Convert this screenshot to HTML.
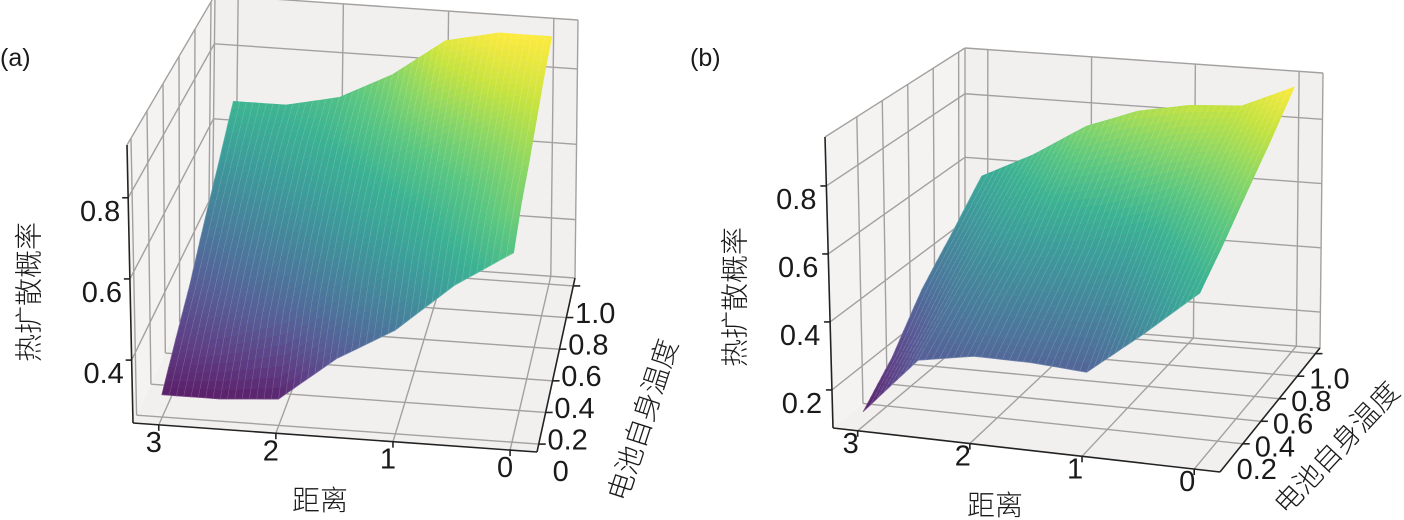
<!DOCTYPE html>
<html><head><meta charset="utf-8"><style>
html,body{margin:0;padding:0;background:#fff;}
svg{display:block;}
.tk{font-family:"Liberation Sans",sans-serif;font-size:29px;fill:#1a1a1a;}
.cj{font-family:"Liberation Sans","Noto Sans CJK SC",sans-serif;font-size:28px;font-weight:300;fill:#1a1a1a;}
</style></head><body>
<svg id="chart" width="1404" height="520" viewBox="0 0 1404 520" xmlns="http://www.w3.org/2000/svg">
<text x="0" y="66" class="tk" style="font-size:25px">(a)</text>
<text x="690" y="66" class="tk" style="font-size:25px">(b)</text>
</svg>
<script>
// ---- data ----
const distanceCats = [3, 2.5, 2, 1.5, 1, 0.5, 0];
const tempCatsA = [0, 0.2, 0.4, 0.6, 0.8, 1.0];
const probA_t00 = [0.30, 0.30, 0.31, 0.42, 0.50, 0.62, 0.71];
const probA_t02 = [0.36, 0.40, 0.45, 0.52, 0.60, 0.68, 0.76];
const probA_t04 = [0.42, 0.48, 0.53, 0.60, 0.66, 0.72, 0.79];
const probA_t06 = [0.50, 0.55, 0.60, 0.66, 0.72, 0.78, 0.83];
const probA_t08 = [0.58, 0.62, 0.66, 0.72, 0.80, 0.85, 0.87];
const probA_t10 = [0.67, 0.67, 0.70, 0.77, 0.87, 0.90, 0.90];
const tempCatsB = [0, 0.25, 0.5, 0.75, 1.0];
const probB_t00 = [0.13, 0.30, 0.33, 0.33, 0.32, 0.45, 0.59];
const probB_t02 = [0.22, 0.38, 0.42, 0.42, 0.44, 0.55, 0.66];
const probB_t05 = [0.35, 0.46, 0.50, 0.52, 0.56, 0.66, 0.74];
const probB_t08 = [0.45, 0.55, 0.62, 0.66, 0.72, 0.76, 0.82];
const probB_t10 = [0.56, 0.64, 0.74, 0.80, 0.83, 0.84, 0.91];
const xTickVals = [3, 2, 1, 0];
const xTickLabels = ['3', '2', '1', '0'];
const yTickValsA = [0, 0.2, 0.4, 0.6, 0.8, 1.0];
const yTickLabelsA = ['0', '0.2', '0.4', '0.6', '0.8', '1.0'];
const yTickValsB = [0.2, 0.4, 0.6, 0.8, 1.0];
const yTickLabelsB = ['0.2', '0.4', '0.6', '0.8', '1.0'];
const zTickValsA = [0.4, 0.6, 0.8];
const zTickLabelsA = ['0.4', '0.6', '0.8'];
const zTickValsB = [0.2, 0.4, 0.6, 0.8];
const zTickLabelsB = ['0.2', '0.4', '0.6', '0.8'];

const NS = 'http://www.w3.org/2000/svg';
const svg = document.getElementById('chart');
function mk(tag, attrs, parent) {
  const e = document.createElementNS(NS, tag);
  for (const k in attrs) e.setAttribute(k, attrs[k]);
  (parent || svg).appendChild(e);
  return e;
}
const lerp = (a, b, t) => [a[0] + (b[0] - a[0]) * t, a[1] + (b[1] - a[1]) * t];
const bil = (a, b, c, d, u, v) => lerp(lerp(a, b, u), lerp(c, d, u), v);
const VIR = ['#440154','#482475','#414487','#355f8d','#2a788e','#21918c','#22a884','#44bf70','#7ad151','#bddf26','#fde725'];
function hex(h){return [parseInt(h.substr(1,2),16),parseInt(h.substr(3,2),16),parseInt(h.substr(5,2),16)];}
function viridis(t){
  t=Math.max(0,Math.min(1,t)); const f=t*10; const i=Math.min(9,Math.floor(f)); const r=f-i;
  const a=hex(VIR[i]), b=hex(VIR[i+1]);
  return 'rgb('+a.map((x,k)=>Math.round((x+(b[k]-x)*r)*0.88+255*0.12)).join(',')+')';
}

function drawPanel(cfg) {
  const c = cfg.c;
  const g = mk('g', {});
  
  
  const P = (u, v, w) => lerp(bil(c.FLB, c.FRB, c.BLB, c.BRB, u, v), bil(c.FLT, c.FRT, c.BLT, c.BRT, u, v), w);
  const U = x => (x - cfg.xr[0]) / (cfg.xr[1] - cfg.xr[0]);
  const V = y => (y - cfg.yr[0]) / (cfg.yr[1] - cfg.yr[0]);
  const W = z => (z - cfg.zr[0]) / (cfg.zr[1] - cfg.zr[0]);
  const pts = a => a.map(p => p[0].toFixed(1) + ',' + p[1].toFixed(1)).join(' ');
  const paneFill = '#f2f0ef';
  let e;
  e = mk('polygon', {points: pts([c.FLB, c.FRB, c.BRB, c.BLB]), fill: paneFill}, g);
   
  e = mk('polygon', {points: pts([c.BLB, c.BRB, c.BRT, c.BLT]), fill: paneFill}, g);
   
  e = mk('polygon', {points: pts([c.FLB, c.BLB, c.BLT, c.FLT]), fill: '#f4f3f2'}, g);
   
  const gl = (a, b, nm) => {
    const l = mk('line', {x1: a[0], y1: a[1], x2: b[0], y2: b[1], stroke: '#a3a1a0', 'stroke-width': 1.4}, g);
    
    
  };
  gl(c.BLB, c.BRB, 'pane-edge'); gl(c.BLB, c.BLT, 'pane-edge'); gl(c.BRB, c.BRT, 'pane-edge');
  gl(c.BLT, c.BRT, 'pane-edge'); gl(c.FLT, c.BLT, 'pane-edge');
  cfg.xTicks.forEach(x => { const u = U(x); gl(P(u, 0, 0), P(u, 1, 0), 'floor-gridline'); gl(P(u, 1, 0), P(u, 1, 1), 'back-gridline'); });
  cfg.yTicks.forEach(y => { const v = V(y); gl(P(0, v, 0), P(1, v, 0), 'floor-gridline'); gl(P(0, v, 0), P(0, v, 1), 'side-gridline'); });
  cfg.zTicks.forEach(z => { const w = W(z); gl(P(0, 1, w), P(1, 1, w), 'back-gridline'); gl(P(0, 0, w), P(0, 1, w), 'side-gridline'); });
  // surface
  const Z = cfg.zData, xs = cfg.xs, ys = cfg.ys;
  let zmin = Infinity, zmax = -Infinity;
  Z.forEach(r => r.forEach(z => { zmin = Math.min(zmin, z); zmax = Math.max(zmax, z); }));
  const n = 8, quads = [];
  for (let j = 0; j < ys.length - 1; j++) for (let i = 0; i < xs.length - 1; i++) {
    for (let b = 0; b < n; b++) for (let a = 0; a < n; a++) {
      const corner = (aa, bb) => {
        const s = aa / n, t = bb / n;
        const z = (Z[j][i] * (1 - s) + Z[j][i + 1] * s) * (1 - t) + (Z[j + 1][i] * (1 - s) + Z[j + 1][i + 1] * s) * t;
        const x = xs[i] + (xs[i + 1] - xs[i]) * s, y = ys[j] + (ys[j + 1] - ys[j]) * t;
        return {x, y, z};
      };
      const q = [corner(a, b), corner(a + 1, b), corner(a + 1, b + 1), corner(a, b + 1)];
      const zc = q.reduce((s, p) => s + p.z, 0) / 4;
      const uc = q.reduce((s, p) => s + U(p.x), 0) / 4, vc = q.reduce((s, p) => s + V(p.y), 0) / 4;
      quads.push({q, zc, d: vc + 0.12 * (1 - uc)});
    }
  }
  quads.sort((p, q) => q.d - p.d);
  const sg = mk('g', {}, g);
  
  
  quads.forEach(o => {
    const col = viridis((o.zc - zmin) / (zmax - zmin));
    const pp = o.q.map(p => P(U(p.x), V(p.y), W(p.z)));
    const el = mk('polygon', {points: pts(pp), fill: col, stroke: col, 'stroke-width': 0.7, 'stroke-linejoin': 'round'}, sg);
    
    
    const ml = mk('polyline', {points: pts([pp[3], pp[0], pp[1]]), fill: 'none', stroke: 'rgba(255,255,255,0.22)', 'stroke-width': 0.6}, sg);
    
    
  });
  const ax = (a, b, nm) => {
    const l = mk('line', {x1: a[0], y1: a[1], x2: b[0], y2: b[1], stroke: '#222', 'stroke-width': 1.6}, g);
    
    
  };
  ax(c.FLB, c.FLT, 'z-axis-line'); ax(c.FLB, c.FRB, 'x-axis-line'); ax(c.FRB, c.BRB, 'y-axis-line');
  const txt = (s, p, nm, cls, anchor) => {
    const t = mk('text', {x: p[0], y: p[1], class: cls, 'text-anchor': anchor || 'middle'}, g);
    t.textContent = s;
    
    
    return t;
  };
  cfg.xTicks.forEach((x, k) => {
    const p = P(U(x), 0, 0);
    ax(p, [p[0], p[1] + 6], 'x-tick');
    txt(cfg.xLabels[k], [p[0] + cfg.xOff[0], p[1] + cfg.xOff[1] + 10], 'x-tick-label', 'tk');
  });
  cfg.yTicks.forEach((y, k) => {
    const p = P(1, V(y), 0);
    ax(p, [p[0] + 7, p[1]], 'y-tick');
    txt(cfg.yLabels[k], [p[0] + cfg.yOff[0], p[1] + cfg.yOff[1] + 10], 'y-tick-label', 'tk');
  });
  cfg.zTicks.forEach((z, k) => {
    const p = P(0, 0, W(z));
    ax(p, [p[0] - 6, p[1]], 'z-tick');
    txt(cfg.zLabels[k], [p[0] + cfg.zOff[0], p[1] + cfg.zOff[1] + 10], 'z-tick-label', 'tk');
  });
  txt('距离', cfg.xTitle, 'x-axis-title', 'cj');
  const yt = txt('电池自身温度', cfg.yTitle, 'y-axis-title', 'cj');
  yt.setAttribute('transform', 'rotate(' + cfg.yAngle + ' ' + cfg.yTitle[0] + ' ' + cfg.yTitle[1] + ')');
  yt.setAttribute('dominant-baseline', 'central');
  const zt = txt('热扩散概率', cfg.zTitle, 'z-axis-title', 'cj');
  zt.setAttribute('transform', 'rotate(-90 ' + cfg.zTitle[0] + ' ' + cfg.zTitle[1] + ')');
  zt.setAttribute('dominant-baseline', 'central');
}

drawPanel({
  name: 'panel-a',
  c: {FLB: [133, 423], FRB: [537, 452], BLB: [212, 252], BRB: [575, 278],
      FLT: [127, 145], FRT: [540, 172], BLT: [215, -5], BRT: [578, 20]},
  xr: [3.22, -0.23], yr: [-0.05, 1.05], zr: [0.245, 0.93],
  xs: distanceCats, ys: tempCatsA,
  zData: [probA_t00, probA_t02, probA_t04, probA_t06, probA_t08, probA_t10],
  xTicks: xTickVals, xLabels: xTickLabels, xOff: [-5, 17],
  yTicks: yTickValsA, yLabels: yTickLabelsA, yOff: [22, 27],
  zTicks: zTickValsA, zLabels: zTickLabelsA, zOff: [-28, 13],
  xTitle: [320, 510], yTitle: [643, 420], yAngle: -72, zTitle: [29, 292]
});
drawPanel({
  name: 'panel-b',
  c: {FLB: [833, 428], FRB: [1220, 472], BLB: [965, 320], BRB: [1320, 348],
      FLT: [825, 137], FRT: [1222, 181], BLT: [965, 48], BRT: [1323, 73]},
  xr: [3.22, -0.23], yr: [-0.05, 1.05], zr: [0.088, 0.944],
  xs: distanceCats, ys: tempCatsB,
  zData: [probB_t00, probB_t02, probB_t05, probB_t08, probB_t10],
  xTicks: xTickVals, xLabels: xTickLabels, xOff: [-7, 12],
  yTicks: yTickValsB, yLabels: yTickLabelsB, yOff: [14, 25],
  zTicks: zTickValsB, zLabels: zTickLabelsB, zOff: [-30, 13],
  xTitle: [995, 515], yTitle: [1337, 448], yAngle: -47, zTitle: [735, 297]
});
</script>
</body></html>
